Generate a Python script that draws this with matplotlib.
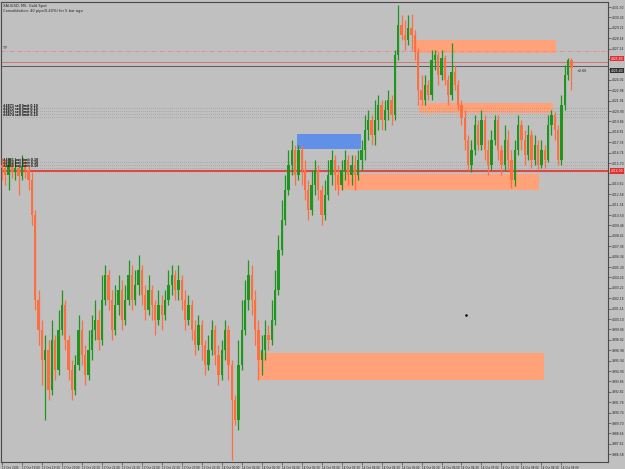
import matplotlib
matplotlib.use("Agg")
import matplotlib.pyplot as plt
from matplotlib.patches import Rectangle
from matplotlib.transforms import blended_transform_factory

# XAUUSD M5 candles
closes = [4015.2, 4014.5, 4015.5, 4014.8, 4015.2, 4014.4, 4015.4, 4015.0, 4014.0, 4010.5,
          4002.0, 3999.0, 3996.0, 3997.0, 3993.0, 3998.0, 3995.0, 3999.0, 4001.5, 3998.0,
          3995.0, 3993.0, 3995.5, 3999.0, 3996.5, 3994.5, 3997.0, 3999.0, 4000.0, 3998.0,
          4002.0, 4004.5, 4002.0, 3999.0, 4001.5, 4003.0, 4000.0, 4002.0, 4004.5, 4002.0,
          4003.5, 4005.0, 4002.5, 4001.0, 4003.0, 4001.5, 4000.0, 4001.5, 4000.5, 4002.0,
          4003.5, 4004.5, 4003.0, 4004.0, 4002.0, 4000.0, 4001.5, 3999.0, 3997.5, 3999.5,
          3997.5, 3995.5, 3997.0, 3999.0, 3996.5, 3994.5, 3997.0, 3999.0, 3995.5, 3992.0,
          3990.0, 3995.5, 3999.0, 4002.0, 4004.5, 4002.0, 3999.0, 3996.0, 3997.0, 3998.5,
          3998.0, 4000.0, 4003.0, 4007.0, 4010.0, 4013.0, 4015.5, 4017.0, 4014.5, 4017.0,
          4015.0, 4013.0, 4011.0, 4013.5, 4015.0, 4013.0, 4010.5, 4012.5, 4014.5, 4016.0,
          4014.5, 4013.5, 4015.0, 4016.0, 4014.5, 4015.5, 4014.5, 4016.0, 4017.0, 4019.0,
          4020.0, 4018.5, 4020.0, 4021.5, 4020.0, 4021.0, 4022.0, 4020.5, 4026.5, 4029.5,
          4028.5, 4028.0, 4029.2, 4028.5, 4026.8, 4023.0, 4022.0, 4023.5, 4022.5, 4026.0,
          4026.5, 4024.5, 4026.2, 4024.0, 4022.5, 4024.8, 4023.5, 4021.5, 4020.2, 4018.0,
          4015.5, 4017.0, 4019.5, 4017.5, 4020.0, 4017.0, 4015.5, 4018.0, 4020.0, 4017.0,
          4015.5, 4018.0, 4016.0, 4014.0, 4017.0, 4019.5, 4018.0, 4016.5, 4018.5, 4016.0,
          4017.5, 4015.5, 4017.0, 4016.0, 4019.5, 4020.5, 4019.0, 4016.0, 4021.5, 4024.5,
          4026.0, 4025.2]
highs = [4016.2, 4016.0, 4016.2, 4015.8, 4016.0, 4015.5, 4016.5, 4016.0, 4015.5, 4014.8,
         4011.0, 4003.0, 4000.0, 3998.5, 3998.0, 4000.0, 3998.5, 4001.0, 4003.0, 4002.0,
         3998.5, 3996.0, 3996.5, 4000.5, 4000.0, 3997.5, 3999.0, 4000.5, 4002.0, 4001.0,
         4004.5, 4005.5, 4005.0, 4003.0, 4003.5, 4004.5, 4004.0, 4003.5, 4006.0, 4005.5,
         4005.0, 4006.5, 4005.5, 4003.5, 4004.5, 4003.5, 4002.0, 4003.0, 4002.5, 4003.0,
         4005.0, 4005.5, 4005.0, 4005.5, 4004.5, 4003.0, 4002.5, 4002.0, 4000.0, 4000.5,
         4000.0, 3998.0, 3998.5, 4000.0, 3999.5, 3997.5, 3998.0, 4000.0, 3999.5, 3996.0,
         3992.5, 3998.0, 4002.0, 4004.0, 4006.0, 4005.5, 4003.0, 4000.0, 3998.5, 4000.0,
         3999.5, 4002.0, 4005.0, 4008.5, 4012.0, 4014.5, 4017.0, 4018.0, 4017.5, 4017.5,
         4017.5, 4016.0, 4014.0, 4015.0, 4016.0, 4015.5, 4013.5, 4014.0, 4016.0, 4017.0,
         4016.5, 4015.5, 4016.0, 4017.0, 4016.5, 4016.5, 4016.5, 4017.0, 4018.0, 4020.5,
         4021.0, 4020.5, 4022.0, 4022.5, 4022.0, 4022.0, 4023.0, 4022.5, 4027.0, 4031.5,
         4030.5, 4030.0, 4030.5, 4030.6, 4029.0, 4027.2, 4024.5, 4024.5, 4024.0, 4027.0,
         4027.0, 4026.8, 4027.0, 4026.5, 4024.5, 4027.7, 4025.5, 4024.0, 4022.0, 4021.0,
         4018.5, 4018.0, 4020.5, 4020.0, 4021.0, 4020.5, 4018.0, 4019.0, 4020.5, 4020.5,
         4017.5, 4019.5, 4019.0, 4017.0, 4018.0, 4020.5, 4020.0, 4019.0, 4019.5, 4019.0,
         4018.5, 4018.0, 4018.0, 4017.5, 4020.5, 4021.0, 4020.8, 4019.5, 4022.5, 4025.5,
         4026.2, 4026.2]
lows = [4014.0, 4013.5, 4013.0, 4014.2, 4014.0, 4012.5, 4014.0, 4014.2, 4013.0, 4009.5,
        4001.0, 3997.5, 3993.5, 3990.0, 3992.0, 3992.5, 3994.0, 3994.5, 3998.5, 3997.0,
        3994.0, 3992.0, 3992.5, 3995.0, 3995.5, 3993.5, 3994.0, 3996.0, 3998.0, 3997.0,
        3997.5, 4001.5, 4001.0, 3998.0, 3998.5, 4000.5, 3999.0, 3999.5, 4001.5, 4001.0,
        4001.5, 4002.5, 4001.5, 4000.0, 4000.5, 4000.0, 3998.5, 3999.5, 3999.0, 4000.0,
        4001.5, 4002.5, 4002.0, 4002.0, 4001.0, 3999.0, 3999.5, 3998.0, 3996.5, 3997.0,
        3996.0, 3994.5, 3995.0, 3996.5, 3995.5, 3993.5, 3994.0, 3996.0, 3994.0, 3986.0,
        3989.5, 3989.0, 3995.0, 3998.5, 4001.0, 4000.5, 3997.5, 3994.0, 3994.5, 3996.0,
        3997.0, 3997.5, 3999.5, 4002.5, 4006.5, 4009.5, 4012.5, 4014.5, 4013.5, 4014.0,
        4013.5, 4012.0, 4010.0, 4010.5, 4012.5, 4012.0, 4009.5, 4010.0, 4012.0, 4013.5,
        4013.0, 4012.5, 4013.0, 4014.0, 4013.5, 4013.5, 4013.0, 4014.0, 4015.0, 4016.0,
        4018.0, 4017.5, 4017.5, 4019.0, 4019.0, 4019.0, 4020.0, 4019.5, 4020.0, 4026.0,
        4028.0, 4027.0, 4027.5, 4027.0, 4026.0, 4021.5, 4021.5, 4021.5, 4022.0, 4022.0,
        4025.0, 4023.5, 4024.0, 4023.5, 4021.5, 4022.0, 4023.0, 4021.0, 4019.5, 4017.0,
        4015.0, 4014.8, 4016.5, 4017.0, 4017.0, 4016.0, 4014.5, 4015.0, 4017.5, 4016.0,
        4014.5, 4015.0, 4015.0, 4013.2, 4013.4, 4016.5, 4017.0, 4015.5, 4016.0, 4015.2,
        4015.5, 4015.0, 4015.2, 4015.2, 4015.8, 4018.5, 4018.0, 4015.5, 4015.5, 4021.0,
        4024.0, 4023.0]
first_open = 4015.5
opens = [first_open] + closes[:-1]

# time labels, one every 6 bars
time_labels = ["13 Oct 2025", "13 Oct 19:00", "13 Oct 19:30", "13 Oct 20:00", "13 Oct 20:30",
               "13 Oct 21:00", "13 Oct 21:30", "13 Oct 22:00", "13 Oct 22:30", "13 Oct 23:00",
               "13 Oct 23:30", "14 Oct 00:00", "14 Oct 01:00", "14 Oct 01:30", "14 Oct 02:00",
               "14 Oct 02:30", "14 Oct 03:00", "14 Oct 03:30", "14 Oct 04:00", "14 Oct 04:30",
               "14 Oct 05:00", "14 Oct 05:30", "14 Oct 06:00", "14 Oct 06:30", "14 Oct 07:00",
               "14 Oct 07:30", "14 Oct 08:00", "14 Oct 08:30", "14 Oct 09:00"]
bars_per_label = 6

# price scale labels
price_top = 4031.30
price_step = 1.04
n_price_labels = 44

# zones: (first bar, last bar, low price, high price)
supply_zones = [(124.3, 166.4, 4026.7, 4028.0),
                (125.2, 165.5, 4020.7, 4021.7),
                (100.3, 161.3, 4013.0, 4014.6),
                (76.9, 162.8, 3994.0, 3996.7)]
demand_zones = [(88.6, 107.8, 4017.1, 4018.6)]

bid_level = 4014.9
ask_level = 4025.8
last_level = 4025.4
tp_level = 4026.9
order_levels_a = [4021.2, 4020.9, 4020.6, 4020.3]
order_levels_b = [4015.8, 4015.5, 4015.2]

BG = "#c0c0c0"
UP = "#1e961e"
DOWN = "#ff6e40"
ZONE = "#ffa27a"
BLUE = "#6090e8"

fig = plt.figure(figsize=(6.25, 4.69), dpi=100, facecolor=BG)
ax = fig.add_axes([0.0016, 0.0149, 0.9712, 0.9808])
ax.set_facecolor(BG)

# zones
for x0, x1, y0, y1 in supply_zones:
    ax.add_patch(Rectangle((x0, y0), x1 - x0, y1 - y0, color=ZONE, lw=0, zorder=1))
for x0, x1, y0, y1 in demand_zones:
    ax.add_patch(Rectangle((x0, y0), x1 - x0, y1 - y0, color=BLUE, lw=0, zorder=1))

# levels
ax.axhline(bid_level, color="#e04848", lw=1.5, zorder=2)
ax.axhline(ask_level, color="#d86868", lw=0.6, zorder=2)
ax.axhline(last_level, color="#585858", lw=0.7, zorder=2)
ax.axhline(tp_level, color="#e08a8a", lw=0.6, ls=(0, (5, 2, 1, 2)), zorder=2)
for lv in order_levels_a + order_levels_b:
    ax.axhline(lv, color="#7a7a7a", lw=0.5, ls=(0, (0.6, 2.2)), zorder=2)

# candles
idx = list(range(len(closes)))
cols = [UP if c >= o else DOWN for o, c in zip(opens, closes)]
ax.vlines(idx, lows, highs, colors=cols, lw=0.9, zorder=3)
bodies = [max(abs(c - o), 0.08) for o, c in zip(opens, closes)]
bottoms = [min(o, c) for o, c in zip(opens, closes)]
ax.bar(idx, bodies, bottom=bottoms, width=0.7, color=cols, lw=0, zorder=4)

ax.set_xlim(-0.3, 182.0)
ax.set_ylim(3985.8, 4031.8)

# axes look
for s in ["top", "right", "bottom", "left"]:
    ax.spines[s].set_color("#4a4a4a")
    ax.spines[s].set_linewidth(0.8)
ax.yaxis.tick_right()
yt = [round(price_top - k * price_step, 2) for k in range(n_price_labels)]
boxed = [bid_level, ask_level + 0.35, last_level - 0.45]
ylabels = ["" if min(abs(v - b) for b in boxed) < 0.6 else "%.2f" % v for v in yt]
ax.set_yticks(yt)
ax.set_yticklabels(ylabels, fontsize=2.2, color="#202020")
xt = [k * bars_per_label for k in range(len(time_labels))]
ax.set_xticks(xt)
ax.set_xticklabels(time_labels, fontsize=2.0, color="#202020", ha="left")
ax.tick_params(axis="both", length=2, width=0.5, color="#4a4a4a", pad=1)

# texts
ax.text(0.004, 0.995, "XAUUSD, M5: Gold Spot", transform=ax.transAxes,
        fontsize=2.6, va="top", ha="left", color="#202020")
ax.text(0.004, 0.984, "Consolidation: 40 pips(0.40%) for 5 bar ago", transform=ax.transAxes,
        fontsize=2.6, va="top", ha="left", color="#202020")

tr = blended_transform_factory(ax.transAxes, ax.transData)
ax.text(0.003, tp_level + 0.1, "TP", transform=tr, fontsize=2.4, va="bottom",
        ha="left", color="#303030")
order_texts_a = ["#4871 sell limit 0.10", "#4872 sell limit 0.10",
                 "#4873 sell limit 0.10", "#4874 sell limit 0.10"]
for lv, t in zip(order_levels_a, order_texts_a):
    ax.text(0.003, lv + 0.05, t, transform=tr, fontsize=2.2, va="bottom",
            ha="left", color="#101010", fontweight="bold", zorder=5)
order_texts_b = ["#4861 buy limit 0.10", "#4862 buy limit 0.10", "#4863 buy limit 0.10"]
for lv, t in zip(order_levels_b, order_texts_b):
    ax.text(0.003, lv + 0.05, t, transform=tr, fontsize=2.2, va="bottom",
            ha="left", color="#101010", fontweight="bold", zorder=5)

ax.text(len(closes) + 0.5, last_level - 0.5, "+2.66", fontsize=2.4,
        va="center", ha="left", color="#202020", zorder=5)

# price boxes on the right scale
ax.text(1.004, bid_level, "%.2f" % bid_level, transform=tr, fontsize=2.2,
        va="center", ha="left", color="white", clip_on=False,
        bbox=dict(boxstyle="square,pad=0.25", fc="#e03030", ec="none"))
ax.text(1.004, ask_level + 0.35, "%.2f" % ask_level, transform=tr, fontsize=2.2,
        va="center", ha="left", color="white", clip_on=False,
        bbox=dict(boxstyle="square,pad=0.2", fc="#e03030", ec="none"))
ax.text(1.004, last_level - 0.45, "%.2f" % last_level, transform=tr, fontsize=2.2,
        va="center", ha="left", color="white", clip_on=False,
        bbox=dict(boxstyle="square,pad=0.2", fc="#303030", ec="none"))

ax.plot([139.5], [4000.5], marker="s", ms=0.8, color="#101010", zorder=5)

fig.savefig("out.png", dpi=100, facecolor=BG)
